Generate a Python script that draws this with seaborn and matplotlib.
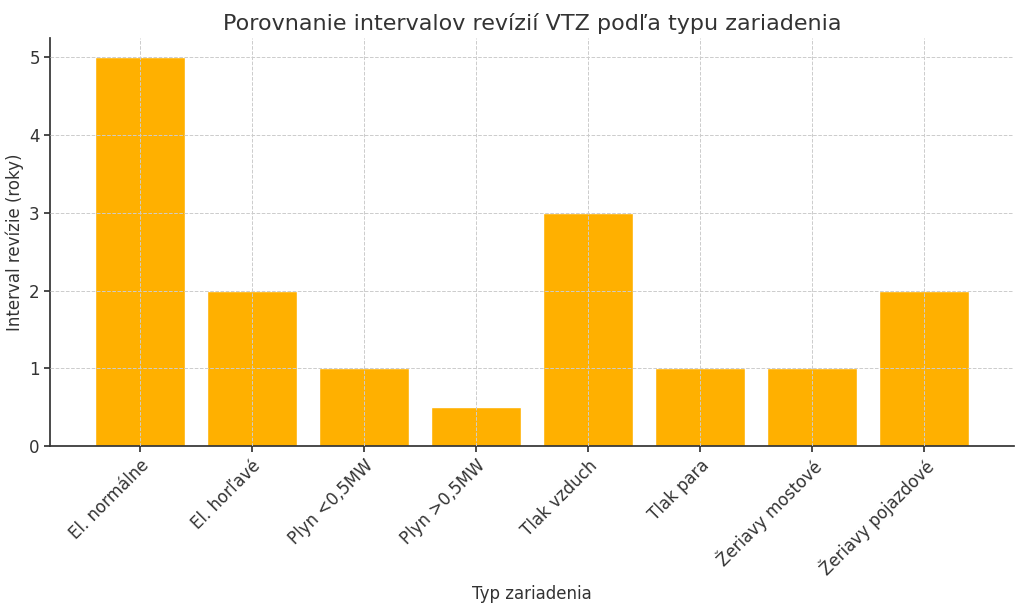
import matplotlib
matplotlib.use("Agg")
import matplotlib.pyplot as plt
import seaborn as sns
import pandas as pd

categories = ["El. normálne", "El. horľavé", "Plyn <0,5MW", "Plyn >0,5MW",
              "Tlak vzduch", "Tlak para", "Žeriavy mostové", "Žeriavy pojazdové"]
intervals = [5, 2, 1, 0.5, 3, 1, 1, 2]

df = pd.DataFrame({"typ": categories, "interval": intervals})

sns.set_theme(style="white")
fig, ax = plt.subplots(figsize=(10.24, 6.11), dpi=100)
fig.subplots_adjust(left=0.049, right=0.99, top=0.938, bottom=0.27)

sns.barplot(data=df, x="typ", y="interval", color="#FFB000", saturation=1,
            width=0.8, ax=ax)

ax.set_axisbelow(False)
ax.grid(True, linestyle="--", linewidth=0.7, color="#cccccc")
for s in ["top", "right"]:
    ax.spines[s].set_visible(False)
for s in ["left", "bottom"]:
    ax.spines[s].set_color("#333333")
ax.tick_params(axis="both", labelsize=12, colors="#333333", length=4, left=True, bottom=True)
ax.set_xticks(range(len(categories)))
ax.set_xticklabels(categories, rotation=45, ha="right", rotation_mode="anchor")
ax.set_ylim(0, 5.25)
ax.set_xlim(-0.8, 7.8)
ax.set_title("Porovnanie intervalov revízií VTZ podľa typu zariadenia", fontsize=16, color="#333333")
ax.set_xlabel("Typ zariadenia", fontsize=12, color="#333333")
ax.set_ylabel("Interval revízie (roky)", fontsize=12, color="#333333")

fig.savefig("out.png", dpi=100)
